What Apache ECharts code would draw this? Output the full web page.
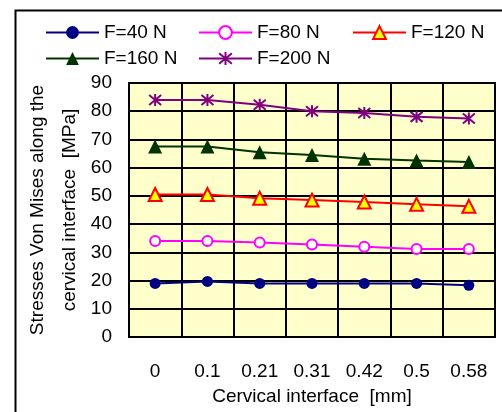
<!DOCTYPE html>
<html>
<head>
  <meta charset="UTF-8">
  <title>Von Mises stresses</title>
  <script src="https://cdn.jsdelivr.net/npm/echarts@6/dist/echarts.min.js"></script>
  <style>
    body { margin: 0; background: #fff; }
    #chart { width: 502px; height: 412px; }
  </style>
</head>
<body>
  <div id="chart"></div>
  <script>
    // data
    var positions = ['0', '0.1', '0.21', '0.31', '0.42', '0.5', '0.58'];
    var f40  = [19, 19.7, 19, 19, 19, 19, 18.3];
    var f80  = [34, 34, 33.5, 32.8, 32, 31.2, 31.2];
    var f120 = [50.5, 50.5, 49.2, 48.5, 47.8, 47, 46.3];
    var f160 = [67.5, 67.5, 65.5, 64.5, 63.2, 62.5, 62];
    var f200 = [84, 84, 82.3, 80, 79.4, 78, 77.4];

    var font = 'Liberation Sans, Arial, sans-serif';
    var star = 'path://M0 -6 L0 6 M-5 -5 L5 5 M-5 5 L5 -5';

    function legendAt(name, left, top) {
      return {
        data: [name], left: left, top: top, itemWidth: 53, itemHeight: 16,
        textStyle: { fontFamily: font, fontSize: 19, color: '#000' }
      };
    }

    var chart = echarts.init(document.getElementById('chart'), null, { renderer: 'canvas' });
    chart.setOption({
      animation: false,
      backgroundColor: '#fff',
      graphic: [{
        type: 'rect', left: 13, top: 8, z: -1,
        shape: { width: 488, height: 403 },
        style: { fill: 'none', stroke: '#000', lineWidth: 2 }
      }],
      legend: [
        legendAt('F=40 N', 40, 18),
        legendAt('F=80 N', 193, 18),
        legendAt('F=120 N', 347, 18),
        legendAt('F=160 N', 40, 44),
        legendAt('F=200 N', 193, 44)
      ],
      grid: {
        left: 129, right: 7, top: 83, bottom: 75,
        show: true, backgroundColor: '#FFFFCC', borderColor: '#000', borderWidth: 2
      },
      xAxis: {
        type: 'category', data: positions, boundaryGap: true,
        name: 'Cervical interface  [mm]', nameLocation: 'middle', nameGap: 50,
        nameTextStyle: { fontFamily: font, fontSize: 19, color: '#000' },
        axisLine: { lineStyle: { color: '#000', width: 2 } },
        axisTick: { show: false },
        axisLabel: { fontFamily: font, fontSize: 19, color: '#000', margin: 25 },
        splitLine: { show: true, lineStyle: { color: '#000', width: 2 } }
      },
      yAxis: {
        type: 'value', min: 0, max: 90, interval: 10,
        name: 'Stresses Von Mises along the\ncervical interface  [MPa]',
        nameLocation: 'middle', nameRotate: 90, nameGap: 43, nameMoveOverlap: false,
        nameTextStyle: { fontFamily: font, fontSize: 19, color: '#000', lineHeight: 32 },
        axisLine: { show: true, lineStyle: { color: '#000', width: 2 } },
        axisTick: { show: false },
        axisLabel: { fontFamily: font, fontSize: 19, color: '#000', margin: 17 },
        splitLine: { show: true, lineStyle: { color: '#000', width: 2 } }
      },
      series: [
        {
          name: 'F=40 N', type: 'line', data: f40, symbol: 'circle', symbolSize: 11,
          lineStyle: { color: '#000080', width: 2 },
          itemStyle: { color: '#000080' }
        },
        {
          name: 'F=80 N', type: 'line', data: f80, symbol: 'emptyCircle', symbolSize: 10,
          lineStyle: { color: '#FF00FF', width: 2 },
          itemStyle: { color: '#FF00FF', borderWidth: 2 }
        },
        {
          name: 'F=120 N', type: 'line', data: f120, symbol: 'triangle', symbolSize: 13,
          lineStyle: { color: '#FF0000', width: 2 },
          itemStyle: { color: '#FFFF00', borderColor: '#FF0000', borderWidth: 2 }
        },
        {
          name: 'F=160 N', type: 'line', data: f160, symbol: 'triangle', symbolSize: 14,
          lineStyle: { color: '#003300', width: 2 },
          itemStyle: { color: '#003300' }
        },
        {
          name: 'F=200 N', type: 'line', data: f200, symbol: star, symbolSize: 12,
          lineStyle: { color: '#800080', width: 2 },
          itemStyle: { color: 'none', borderColor: '#800080', borderWidth: 2 }
        }
      ]
    });
  </script>
</body>
</html>
